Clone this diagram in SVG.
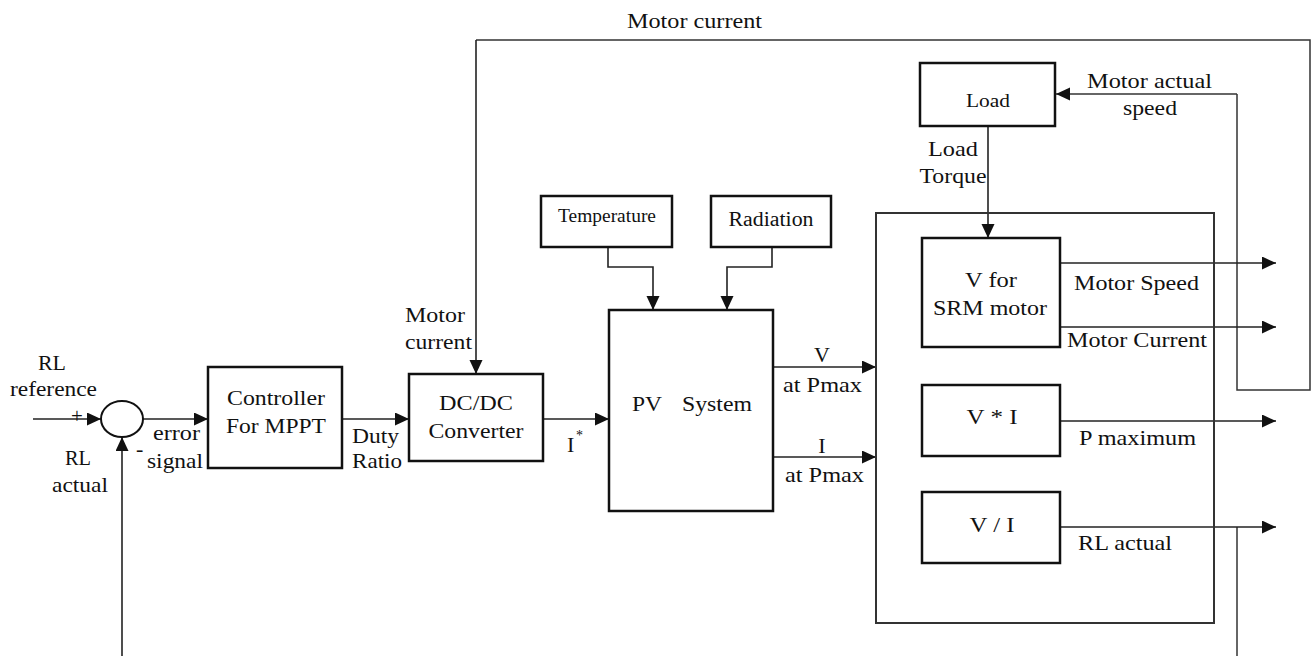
<svg xmlns="http://www.w3.org/2000/svg" width="1311" height="656" viewBox="0 0 1311 656" font-family="'Liberation Serif', 'Times New Roman', Times, 'DejaVu Serif', serif">
<style>
text{font-family:'Liberation Serif','Times New Roman',Times,'DejaVu Serif',serif;font-size:22px;fill:#111}
.m{text-anchor:middle}
.box{fill:#fff;stroke:#111;stroke-width:2.5}
.frame{fill:none;stroke:#333;stroke-width:2}
.ln{fill:none;stroke:#222;stroke-width:1.6}
.fb{fill:none;stroke:#333;stroke-width:1.5}
</style>
<defs>
<marker id="ah" markerUnits="userSpaceOnUse" markerWidth="14" markerHeight="14" refX="14" refY="6.5" orient="auto">
<path d="M0,0 L14,6.5 L0,13 z" fill="#111"/>
</marker>
</defs>
<rect width="1311" height="656" fill="#fff"/>

<g id="connectors">
<polyline class="fb" points="1237,94 1237,390 1310,390 1310,40 476,40"/>
<line class="ln" x1="476" y1="40" x2="476" y2="374" marker-end="url(#ah)"/>
<line class="fb" x1="1237" y1="94" x2="1056" y2="94" marker-end="url(#ah)"/>
<line class="ln" x1="988" y1="127" x2="988" y2="238" marker-end="url(#ah)"/>
<line class="ln" x1="33" y1="419" x2="101" y2="419" marker-end="url(#ah)"/>
<line class="ln" x1="122" y1="656" x2="122" y2="437" marker-end="url(#ah)"/>
<line class="fb" x1="1237" y1="527" x2="1237" y2="656"/>
<line class="ln" x1="143" y1="419" x2="208" y2="419" marker-end="url(#ah)"/>
<line class="ln" x1="342" y1="419" x2="409" y2="419" marker-end="url(#ah)"/>
<line class="ln" x1="543" y1="419" x2="609" y2="419" marker-end="url(#ah)"/>
<polyline class="ln" points="608,247 608,267 653,267 653,310" marker-end="url(#ah)"/>
<polyline class="ln" points="772,247 772,267 727,267 727,310" marker-end="url(#ah)"/>
<line class="ln" x1="773" y1="367" x2="876" y2="367" marker-end="url(#ah)"/>
<line class="ln" x1="773" y1="457" x2="876" y2="457" marker-end="url(#ah)"/>
<line class="ln" x1="1060" y1="263" x2="1276" y2="263" marker-end="url(#ah)"/>
<line class="ln" x1="1060" y1="327" x2="1276" y2="327" marker-end="url(#ah)"/>
<line class="ln" x1="1060" y1="421" x2="1276" y2="421" marker-end="url(#ah)"/>
<line class="ln" x1="1060" y1="527" x2="1276" y2="527" marker-end="url(#ah)"/>
</g>

<g id="plant-frame"><rect class="frame" x="876" y="213" width="338" height="410"/></g>

<g id="sum"><ellipse cx="122" cy="419" rx="21" ry="18" fill="#fff" stroke="#111" stroke-width="2"/></g>
<g id="controller"><rect class="box" x="208" y="367" width="134" height="101"/>
<text class="m" x="276" y="405" textLength="98" lengthAdjust="spacingAndGlyphs">Controller</text><text class="m" x="276" y="433" textLength="100" lengthAdjust="spacingAndGlyphs">For MPPT</text></g>
<g id="dcdc"><rect class="box" x="409" y="374" width="134" height="87"/>
<text class="m" x="476" y="410" textLength="74" lengthAdjust="spacingAndGlyphs">DC/DC</text><text class="m" x="476" y="438" textLength="95" lengthAdjust="spacingAndGlyphs">Converter</text></g>
<g id="temperature"><rect class="box" x="541" y="196" width="131" height="51"/>
<text class="m" x="607" y="222" style="font-size:18px" textLength="98" lengthAdjust="spacingAndGlyphs">Temperature</text></g>
<g id="radiation"><rect class="box" x="711" y="196" width="120" height="51"/>
<text class="m" x="771" y="226" style="font-size:20px" textLength="85" lengthAdjust="spacingAndGlyphs">Radiation</text></g>
<g id="pv"><rect class="box" x="609" y="310" width="164" height="201"/>
<text x="632" y="411" textLength="30" lengthAdjust="spacingAndGlyphs">PV</text><text x="682" y="411" textLength="70" lengthAdjust="spacingAndGlyphs">System</text></g>
<g id="load"><rect class="box" x="920" y="63" width="135" height="63"/>
<text class="m" x="988" y="107" style="font-size:19px" textLength="44" lengthAdjust="spacingAndGlyphs">Load</text></g>
<g id="srm"><rect class="box" x="922" y="238" width="138" height="109"/>
<text class="m" x="991" y="287" textLength="52" lengthAdjust="spacingAndGlyphs">V for</text><text class="m" x="990" y="315" textLength="114" lengthAdjust="spacingAndGlyphs">SRM motor</text></g>
<g id="vmuli"><rect class="box" x="922" y="385" width="138" height="71"/>
<text class="m" x="992" y="424" textLength="51" lengthAdjust="spacingAndGlyphs">V * I</text></g>
<g id="vdivi"><rect class="box" x="922" y="492" width="138" height="71"/>
<text class="m" x="992" y="532" textLength="45" lengthAdjust="spacingAndGlyphs">V / I</text></g>

<g id="labels">
<text x="627" y="28" textLength="135" lengthAdjust="spacingAndGlyphs">Motor current</text>
<text x="405" y="322" textLength="60" lengthAdjust="spacingAndGlyphs">Motor</text>
<text x="405" y="349" textLength="67" lengthAdjust="spacingAndGlyphs">current</text>
<text class="m" x="52" y="370" textLength="28" lengthAdjust="spacingAndGlyphs">RL</text>
<text x="10" y="396" textLength="87" lengthAdjust="spacingAndGlyphs">reference</text>
<text x="71" y="423" style="font-size:21px">+</text>
<text class="m" x="78" y="465" textLength="26" lengthAdjust="spacingAndGlyphs">RL</text>
<text x="52" y="492" textLength="56" lengthAdjust="spacingAndGlyphs">actual</text>
<text x="136" y="456">-</text>
<text x="153" y="440" textLength="47" lengthAdjust="spacingAndGlyphs">error</text>
<text x="147" y="468" textLength="56" lengthAdjust="spacingAndGlyphs">signal</text>
<text x="352" y="443" textLength="47" lengthAdjust="spacingAndGlyphs">Duty</text>
<text x="352" y="468" textLength="50" lengthAdjust="spacingAndGlyphs">Ratio</text>
<text x="567" y="452">I</text>
<text x="576" y="440" style="font-size:14px">*</text>
<text class="m" x="822" y="362">V</text>
<text x="783" y="392" textLength="79" lengthAdjust="spacingAndGlyphs">at Pmax</text>
<text class="m" x="822" y="453">I</text>
<text x="785" y="482" textLength="79" lengthAdjust="spacingAndGlyphs">at Pmax</text>
<text class="m" x="953" y="156" textLength="50" lengthAdjust="spacingAndGlyphs">Load</text>
<text class="m" x="953" y="183" textLength="67" lengthAdjust="spacingAndGlyphs">Torque</text>
<text x="1087" y="88" textLength="125" lengthAdjust="spacingAndGlyphs">Motor actual</text>
<text class="m" x="1150" y="115" textLength="54" lengthAdjust="spacingAndGlyphs">speed</text>
<text x="1074" y="290" textLength="125" lengthAdjust="spacingAndGlyphs">Motor Speed</text>
<text x="1067" y="347" textLength="140" lengthAdjust="spacingAndGlyphs">Motor Current</text>
<text x="1079" y="445" textLength="117" lengthAdjust="spacingAndGlyphs">P maximum</text>
<text x="1078" y="550" textLength="94" lengthAdjust="spacingAndGlyphs">RL actual</text>
</g>
</svg>
